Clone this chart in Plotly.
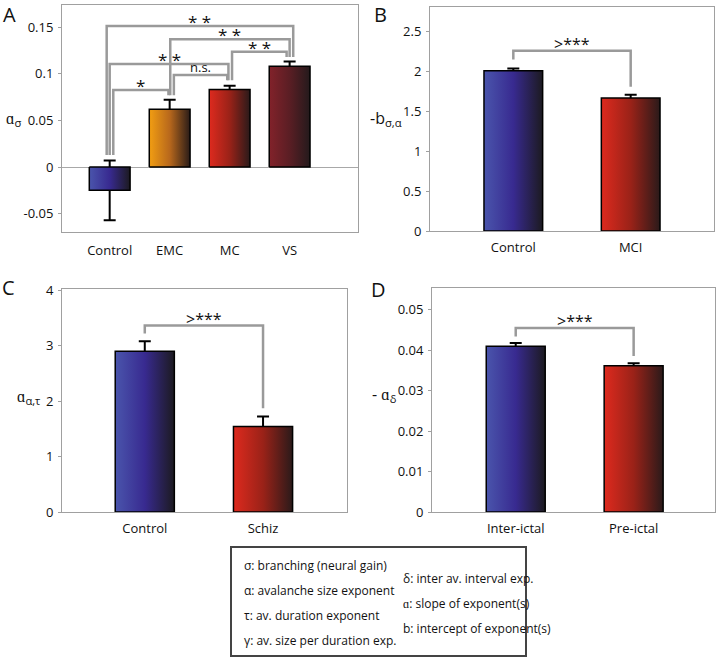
import plotly.graph_objects as go

W, H = 716, 660
FONT = "Open Sans"

# ---------------- data ----------------
a_cats = ["Control", "EMC", "MC", "VS"]
a_vals = [-0.025, 0.062, 0.083, 0.108]
a_errs = [0.032, 0.010, 0.004, 0.005]
a_ticks = [-0.05, 0, 0.05, 0.1, 0.15]
a_ticktext = ["-0.05", "0", "0.05", "0.1", "0.15"]

b_cats = ["Control", "MCI"]
b_vals = [2.01, 1.67]
b_errs = [0.03, 0.04]
b_ticks = [0, 0.5, 1, 1.5, 2, 2.5]
b_ticktext = ["0", "0.5", "1", "1.5", "2", "2.5"]

c_cats = ["Control", "Schiz"]
c_vals = [2.90, 1.54]
c_errs = [0.18, 0.18]
c_ticks = [0, 1, 2, 3, 4]
c_ticktext = ["0", "1", "2", "3", "4"]

d_cats = ["Inter-ictal", "Pre-ictal"]
d_vals = [0.0410, 0.0362]
d_errs = [0.0008, 0.0006]
d_ticks = [0, 0.01, 0.02, 0.03, 0.04, 0.05]
d_ticktext = ["0", "0.01", "0.02", "0.03", "0.04", "0.05"]

# significance brackets: (i, j, level, label, offset_i, offset_j)
a_sig = [
    (0, 1, 0.0825, "*", 0.06, -0.02),
    (1, 2, 0.0985, "n.s.", 0.07, -0.04),
    (0, 2, 0.1105, "* *", 0.0, -0.02),
    (2, 3, 0.1236, "* *", 0.04, -0.05),
    (1, 3, 0.1368, "* *", 0.01, 0.0),
    (0, 3, 0.1510, "* *", -0.05, 0.06),
]
a_sig_base = [0.013, 0.077, 0.093, 0.118]
b_sig = (0, 1, 2.26, ">***", 2.15, 1.81)
c_sig = (0, 1, 3.36, ">***", 3.22, 1.87)
d_sig = (0, 1, 0.0455, ">***", 0.0434, 0.0386)

# colour gradients (left -> right)
BLUE = [[0, "#4A55AC"], [0.5, "#382A90"], [1, "#1C1A20"]]
ORANGE = [[0, "#F29E12"], [0.5, "#B8681C"], [1, "#2A1C18"]]
RED = [[0, "#DE2A1E"], [0.5, "#9A2218"], [1, "#2A1A1A"]]
DARKRED = [[0, "#82222A"], [0.5, "#5A1E24"], [1, "#241A1C"]]
a_colors = [BLUE, ORANGE, RED, DARKRED]
two_colors = [BLUE, RED]

# panel pixel boxes (left, top, right, bottom)
boxes = {
    "A": (62, 5, 358, 232),
    "B": (430, 7, 714, 231),
    "C": (62, 289, 347, 512),
    "D": (432, 288, 715, 512),
}


def dom(box):
    l, t, r, b = box
    return [l / W, r / W], [1 - b / H, 1 - t / H]


fig = go.Figure()

panels = [
    ("A", "", a_cats, a_vals, a_errs, a_colors, 0.68, [-0.795, 4.14], [-0.0696, 0.1736], a_ticks, a_ticktext, 6),
    ("B", "2", b_cats, b_vals, b_errs, two_colors, 0.5, [-0.71, 1.71], [0, 2.81], b_ticks, b_ticktext, 4),
    ("C", "3", c_cats, c_vals, c_errs, two_colors, 0.5, [-0.70, 1.71], [0, 4.02], c_ticks, c_ticktext, 4),
    ("D", "4", d_cats, d_vals, d_errs, two_colors, 0.5, [-0.71, 1.69], [0, 0.0554], d_ticks, d_ticktext, 4),
]

layout = dict(
    width=W, height=H, margin=dict(l=0, r=0, t=0, b=0),
    paper_bgcolor="white", plot_bgcolor="white", showlegend=False,
    template="none", font=dict(family=FONT, size=13, color="#111"),
)
shapes = []
annotations = []

for name, sfx, cats, vals, errs, cols, bw, xr, yr, yt, ytt, stand in panels:
    xa, ya = "x" + sfx, "y" + sfx
    xd, yd = dom(boxes[name])
    idx = list(range(len(cats)))
    # error bars (drawn first so the part inside the bar is hidden)
    fig.add_trace(go.Scatter(
        x=idx, y=vals, mode="markers", xaxis=xa, yaxis=ya,
        marker=dict(size=1, color="rgba(0,0,0,0)"),
        error_y=dict(type="data", array=errs, color="black", thickness=2, width=6),
        hoverinfo="skip"))
    # bars with horizontal gradient
    for i, v in enumerate(vals):
        x0, x1 = idx[i] - bw / 2, idx[i] + bw / 2
        fig.add_trace(go.Scatter(
            x=[x0, x1, x1, x0, x0], y=[0, 0, v, v, 0], mode="lines",
            fill="toself", xaxis=xa, yaxis=ya,
            fillgradient=dict(type="horizontal", colorscale=cols[i]),
            line=dict(color="black", width=1.5), hoverinfo="skip"))
    layout["xaxis" + sfx] = dict(
        domain=xd, range=xr, tickvals=idx, ticktext=cats, showgrid=False,
        zeroline=False, showline=True, mirror=True, linecolor="#a0a0a0",
        linewidth=1, ticks="", anchor=ya, ticklabelstandoff=stand,
        tickfont=dict(family=FONT, size=13, color="#111"))
    layout["yaxis" + sfx] = dict(
        domain=yd, range=yr, tickvals=yt, ticktext=ytt, showgrid=False,
        zeroline=(name == "A"), zerolinecolor="#a8a8a8", zerolinewidth=1,
        showline=True, mirror=True, linecolor="#a0a0a0", linewidth=1,
        ticks="outside", ticklen=3, tickcolor="#a0a0a0", anchor=xa,
        ticklabelstandoff=2,
        tickfont=dict(family=FONT, size=13, color="#111"))

GRAY = "#9a9a9a"


def bracket(xa, ya, xi, xj, level, yi, yj, label, size, shift):
    shapes.append(dict(type="path", xref=xa, yref=ya,
                       path=f"M {xi},{yi} L {xi},{level} L {xj},{level} L {xj},{yj}",
                       line=dict(color=GRAY, width=2.5)))
    annotations.append(dict(x=(xi + xj) / 2, y=level, xref=xa, yref=ya,
                            text=label, showarrow=False, yanchor="bottom",
                            yshift=shift,
                            font=dict(family=FONT, size=size, color="#111")))


for i, j, lev, lab, oi, oj in a_sig:
    if lab == "n.s.":
        bracket("x", "y", i + oi, j + oj, lev, a_sig_base[i], a_sig_base[j], lab, 13, -3)
    else:
        bracket("x", "y", i + oi, j + oj, lev, a_sig_base[i], a_sig_base[j], lab, 17, -9)

for sfx, sig in (("2", b_sig), ("3", c_sig), ("4", d_sig)):
    i, j, lev, lab, yi, yj = sig
    bracket("x" + sfx, "y" + sfx, i, j, lev, yi, yj, lab, 16, -6)


def pann(x, y, text, size, xanchor="center"):
    annotations.append(dict(x=x / W, y=1 - y / H, xref="paper", yref="paper",
                            text=text, showarrow=False, xanchor=xanchor,
                            yanchor="middle",
                            font=dict(family=FONT, size=size, color="#111")))


# panel letters
pann(9, 14, "A", 20)
pann(381, 14, "B", 20)
pann(8, 288, "C", 20)
pann(378, 289, "D", 20)

# axis titles
pann(13, 118, "ɑ<sub>σ</sub>", 16)
pann(386, 118, "-b<sub>σ,α</sub>", 16)
pann(28, 396, "ɑ<sub>α,τ</sub>", 16)
pann(384, 394, "- ɑ<sub>δ</sub>", 16)

# legend box
shapes.append(dict(type="rect", xref="paper", yref="paper",
                   x0=231 / W, x1=526 / W, y0=1 - 656 / H, y1=1 - 547 / H,
                   line=dict(color="#444", width=2), fillcolor="white"))
left_items = ["σ: branching (neural gain)", "α: avalanche size exponent",
              "τ: av. duration exponent", "γ: av. size per duration exp."]
right_items = ["δ: inter av. interval exp.", "ɑ: slope of exponent(s)",
               "b: intercept of exponent(s)"]
for k, t in enumerate(left_items):
    pann(242, 565 + k * 25, t, 12, "left")
for k, t in enumerate(right_items):
    pann(401, 578 + k * 25, t, 12, "left")

layout["shapes"] = shapes
layout["annotations"] = annotations
fig.update_layout(**layout)
fig.write_html(
    "out.html",
    config={"displayModeBar": False},
    post_script="document.body.style.margin='0';document.body.style.overflow='hidden';",
)
